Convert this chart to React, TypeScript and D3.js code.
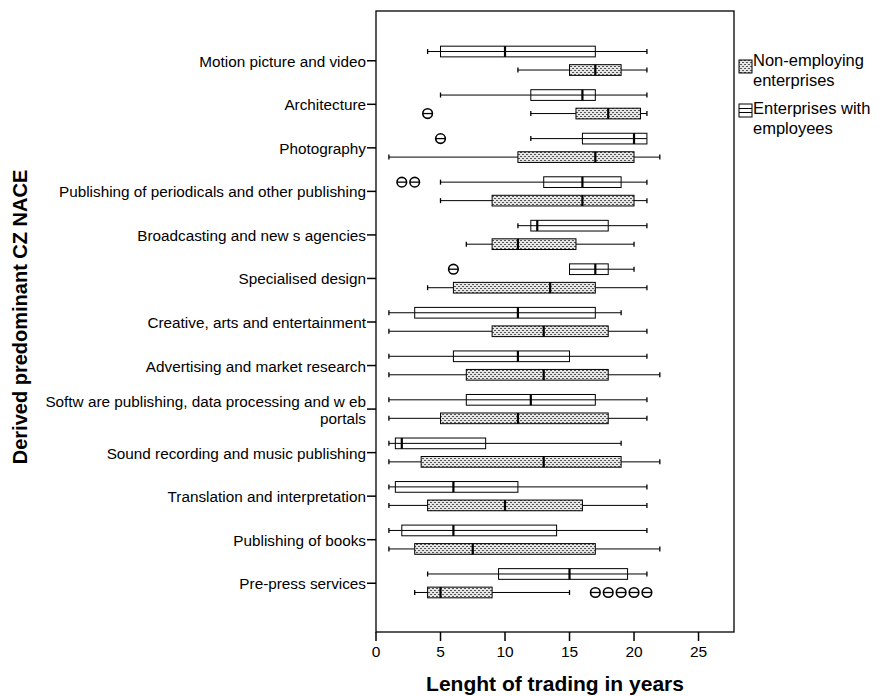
import React from "react";
import * as d3 from "d3";

const categories = [
  "Motion picture and video",
  "Architecture",
  "Photography",
  "Publishing of periodicals and other publishing",
  "Broadcasting and new s agencies",
  "Specialised design",
  "Creative, arts and entertainment",
  "Advertising and market research",
  "Softw are publishing, data processing and w eb|portals",
  "Sound recording and music publishing",
  "Translation and interpretation",
  "Publishing of books",
  "Pre-press services",
];

// Enterprises with employees
const empMin = [4, 5, 12, 5, 11, 15, 1, 1, 1, 1, 1, 1, 4];
const empQ1 = [5, 12, 16, 13, 12, 15, 3, 6, 7, 1.5, 1.5, 2, 9.5];
const empMed = [10, 16, 20, 16, 12.5, 17, 11, 11, 12, 2, 6, 6, 15];
const empQ3 = [17, 17, 21, 19, 18, 18, 17, 15, 17, 8.5, 11, 14, 19.5];
const empMax = [21, 21, 21, 21, 21, 20, 19, 21, 21, 19, 21, 21, 21];

// Non-employing enterprises
const nonMin = [11, 12, 1, 5, 7, 4, 1, 1, 1, 1, 1, 1, 3];
const nonQ1 = [15, 15.5, 11, 9, 9, 6, 9, 7, 5, 3.5, 4, 3, 4];
const nonMed = [17, 18, 17, 16, 11, 13.5, 13, 13, 11, 13, 10, 7.5, 5];
const nonQ3 = [19, 20.5, 20, 20, 15.5, 17, 18, 18, 18, 19, 16, 17, 9];
const nonMax = [21, 21, 22, 21, 20, 21, 21, 22, 21, 22, 21, 22, 15];

// Outliers
const outlierCategory = [1, 2, 3, 3, 5, 12, 12, 12, 12, 12];
const outlierSeries = ["non", "emp", "emp", "emp", "emp", "non", "non", "non", "non", "non"];
const outlierValue = [4, 5, 2, 3, 6, 17, 18, 19, 20, 21];

const xTicks = [0, 5, 10, 15, 20, 25];
const seriesKeys = ["emp", "non"];
const legendLabels = [
  ["Non-employing", "enterprises"],
  ["Enterprises with", "employees"],
];

const FONT = "'Liberation Sans', Arial, Helvetica, sans-serif";

export default function App() {
  const W = 895;
  const H = 696;
  const frame = { left: 376, right: 734, top: 11, bottom: 632 };

  const x = d3.scaleLinear().domain([0, 27.75]).range([frame.left, frame.right]);
  const y = d3.scaleBand<string>().domain(categories).range([39, 605]).padding(0);
  const bw = y.bandwidth();
  const inner = d3
    .scaleBand<string>()
    .domain(seriesKeys)
    .range([bw / 2 - 18.5, bw / 2 + 18.5])
    .padding(0);
  const boxH = 10.7;

  const series = {
    emp: { min: empMin, q1: empQ1, med: empMed, q3: empQ3, max: empMax },
    non: { min: nonMin, q1: nonQ1, med: nonMed, q3: nonQ3, max: nonMax },
  } as const;

  const cy = (i: number, s: string) =>
    (y(categories[i]) as number) + (inner(s) as number) + inner.bandwidth() / 2;

  const boxes: React.ReactNode[] = [];
  categories.forEach((c, i) => {
    seriesKeys.forEach((s) => {
      const d = (series as any)[s];
      const yc = cy(i, s);
      const x0 = x(d.min[i]);
      const x1 = x(d.q1[i]);
      const xm = x(d.med[i]);
      const x3 = x(d.q3[i]);
      const x4 = x(d.max[i]);
      boxes.push(
        <g key={`${i}-${s}`}>
          {d.min[i] < d.q1[i] && (
            <>
              <line x1={x0} x2={x1} y1={yc} y2={yc} stroke="#000" strokeWidth={1} />
              <line x1={x0} x2={x0} y1={yc - 2.5} y2={yc + 2.5} stroke="#000" strokeWidth={1.3} />
            </>
          )}
          {d.max[i] > d.q3[i] && (
            <>
              <line x1={x3} x2={x4} y1={yc} y2={yc} stroke="#000" strokeWidth={1} />
              <line x1={x4} x2={x4} y1={yc - 2.5} y2={yc + 2.5} stroke="#000" strokeWidth={1.3} />
            </>
          )}
          <rect
            x={x1}
            y={yc - boxH / 2}
            width={x3 - x1}
            height={boxH}
            fill={s === "non" ? "url(#dots)" : "#fff"}
            stroke="#000"
            strokeWidth={1}
          />
          {s === "emp" && (
            <line x1={x1} x2={x3} y1={yc} y2={yc} stroke="#000" strokeWidth={1} />
          )}
          <line x1={xm} x2={xm} y1={yc - boxH / 2} y2={yc + boxH / 2} stroke="#000" strokeWidth={2.2} />
        </g>
      );
    });
  });

  const outliers = outlierValue.map((v, k) => {
    const yc = cy(outlierCategory[k], outlierSeries[k]);
    const xc = x(v);
    return (
      <g key={`o${k}`}>
        <circle cx={xc} cy={yc} r={4.8} fill="#fff" stroke="#000" strokeWidth={1.6} />
        <line x1={xc - 4.5} x2={xc + 4.5} y1={yc} y2={yc} stroke="#000" strokeWidth={1.3} />
      </g>
    );
  });

  return (
    <svg
      width={W}
      height={H}
      style={{ position: "absolute", left: 0, top: 0, background: "#fff" }}
      fontFamily={FONT}
    >
      <defs>
        <pattern id="dots" width={4} height={4} patternUnits="userSpaceOnUse">
          <rect width={4} height={4} fill="#e6e6e6" />
          <rect x={0} y={0} width={2} height={1} fill="#555" />
          <rect x={2} y={2} width={2} height={1} fill="#555" />
        </pattern>
      </defs>
      <rect width={W} height={H} fill="#fff" />

      {/* frame */}
      <rect
        x={frame.left}
        y={frame.top}
        width={frame.right - frame.left}
        height={frame.bottom - frame.top}
        fill="none"
        stroke="#000"
        strokeWidth={1.3}
      />

      {/* y ticks + labels */}
      {categories.map((c) => {
        const yc = (y(c) as number) + bw / 2;
        const lines = c.split("|");
        const lh = 17;
        return (
          <g key={c}>
            <line x1={frame.left - 9} x2={frame.left} y1={yc} y2={yc} stroke="#000" strokeWidth={1.5} />
            <text
              x={frame.left - 10}
              y={yc - ((lines.length - 1) * lh) / 2}
              textAnchor="end"
              dominantBaseline="central"
              fontSize={15.3}
              fill="#000"
            >
              {lines.map((l, j) => (
                <tspan key={j} x={frame.left - 10} dy={j === 0 ? 0 : lh}>
                  {l}
                </tspan>
              ))}
            </text>
          </g>
        );
      })}

      {/* x ticks */}
      {xTicks.map((t) => (
        <g key={t}>
          <line x1={x(t)} x2={x(t)} y1={frame.bottom} y2={frame.bottom + 9} stroke="#000" strokeWidth={1.5} />
          <text x={x(t)} y={frame.bottom + 25} textAnchor="middle" fontSize={15.5} fill="#000">
            {t}
          </text>
        </g>
      ))}

      {boxes}
      {outliers}

      {/* axis titles */}
      <text x={555} y={691} textAnchor="middle" fontSize={21} fontWeight="bold" fill="#000">
        Lenght of trading in years
      </text>
      <text
        transform="translate(27,317) rotate(-90)"
        textAnchor="middle"
        fontSize={20}
        fontWeight="bold"
        fill="#000"
      >
        Derived predominant CZ NACE
      </text>

      {/* legend */}
      <g>
        <rect x={739} y={60} width={13} height={13} fill="url(#dots)" stroke="#000" strokeWidth={1} />
        <rect x={739} y={104} width={13} height={13} fill="#fff" stroke="#000" strokeWidth={1} />
        <line x1={739} x2={752} y1={108.5} y2={108.5} stroke="#000" strokeWidth={1} />
        <line x1={739} x2={752} y1={112.5} y2={112.5} stroke="#000" strokeWidth={1} />
        {legendLabels.map((lines, k) => (
          <text key={k} x={753} y={k === 0 ? 66 : 114} fontSize={16.5} fill="#000">
            {lines.map((l, j) => (
              <tspan key={j} x={753} dy={j === 0 ? 0 : 19.5}>
                {l}
              </tspan>
            ))}
          </text>
        ))}
      </g>
    </svg>
  );
}
